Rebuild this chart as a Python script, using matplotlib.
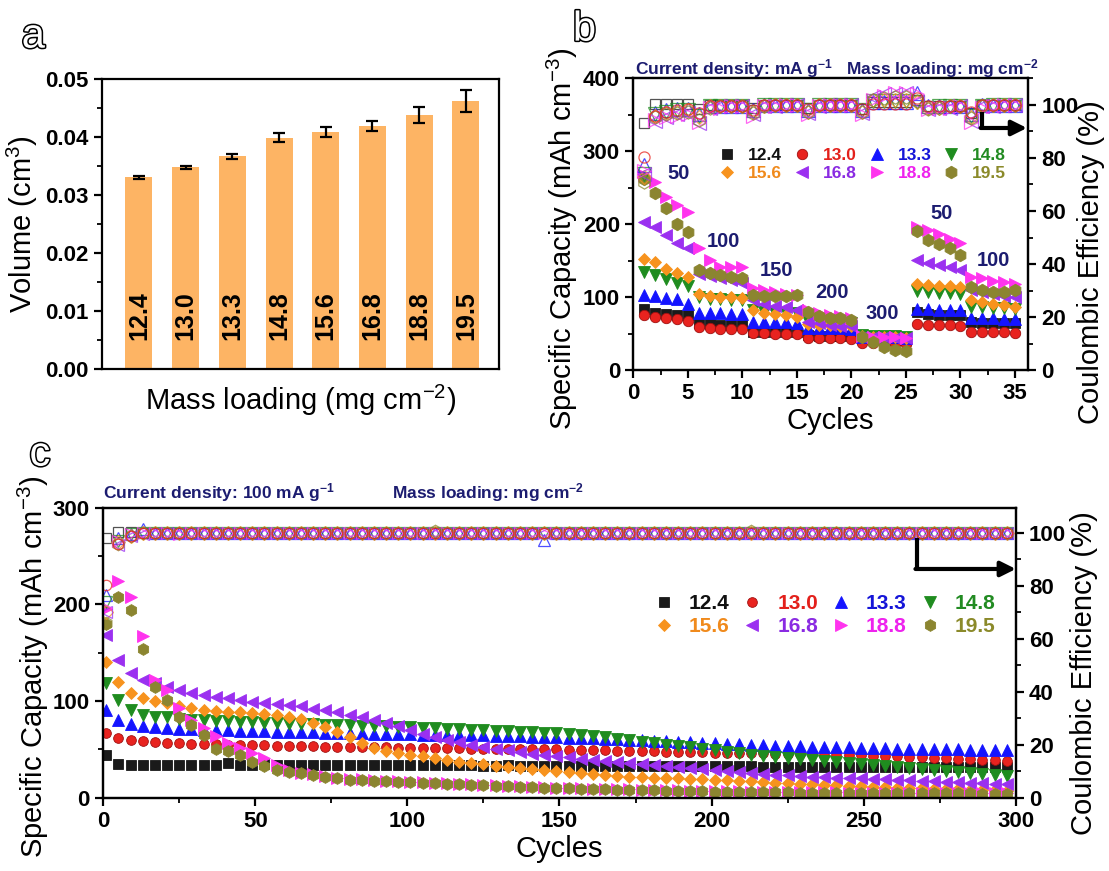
import matplotlib.pyplot as plt
import matplotlib.patheffects as pe
from matplotlib.ticker import MultipleLocator

plt.rcParams['font.family'] = ['Liberation Sans', 'DejaVu Sans']
plt.rcParams['mathtext.fontset'] = 'custom'
plt.rcParams['mathtext.rm'] = 'Liberation Sans'
plt.rcParams['mathtext.bf'] = 'Liberation Sans:bold'
plt.rcParams['mathtext.default'] = 'rm'
plt.rcParams['axes.linewidth'] = 1.6

# ---------------- data ----------------
loadings = ['12.4', '13.0', '13.3', '14.8', '15.6', '16.8', '18.8', '19.5']
bar_pos = [1, 2, 3, 4, 5, 6, 7, 8]
volume = [0.0331, 0.0348, 0.0367, 0.0399, 0.0409, 0.0419, 0.0438, 0.0463]
volume_err = [0.0003, 0.0003, 0.0005, 0.0008, 0.0009, 0.0009, 0.0014, 0.0019]

# panel b: rate test (35 cycles)
cycles_b = [1, 2, 3, 4, 5, 6, 7, 8, 9, 10, 11, 12, 13, 14, 15, 16, 17, 18,
            19, 20, 21, 22, 23, 24, 25, 26, 27, 28, 29, 30, 31, 32, 33, 34, 35]
cap_b_124 = [84.5, 79, 77, 76, 75, 64, 63, 62.5, 62, 62, 53, 52.5, 52.5, 52, 52, 48, 47.5, 47,
             47, 46.5, 43, 42.5, 42.5, 42, 42, 80, 77, 76, 75.5, 75, 66, 65, 64.5, 64.5, 64]
cap_b_130 = [75, 73, 71, 69.5, 67.5, 59, 58, 57, 57, 56, 51.5, 50.5, 50, 49.5, 49, 44.5, 44, 43.5,
             43.5, 43, 37.5, 37, 37, 36.5, 36.5, 63.5, 62.5, 62, 61.5, 61, 53, 52.5, 52, 52, 51.5]
cap_b_133 = [103, 101, 99.5, 97, 91, 79, 78, 78, 77.5, 77, 66.5, 66, 66, 65.5, 65, 58.5, 58, 57.5,
             57.5, 57, 46, 45.5, 45, 45, 44.5, 84, 83.5, 83, 83, 82.5, 71.5, 71, 71, 70.5, 70]
cap_b_148 = [135, 130, 125.5, 120, 115, 100, 98, 97, 96.5, 96, 82, 80, 79, 78.5, 78, 68, 66.5, 65.5,
             65, 64, 48, 47.5, 47, 46.5, 46, 108, 107, 106, 105.5, 105, 87, 86, 85.5, 85, 84.5]
cap_b_156 = [153, 148, 139, 133, 128, 105, 101, 100, 100, 99.5, 82, 79, 77, 75, 73, 63, 62, 61.5,
             61, 60.5, 47, 46, 45.5, 45, 44.5, 118, 116.5, 115.5, 115, 114.5, 96, 93, 91, 89, 87]
cap_b_168 = [203, 196, 185, 174, 167, 132, 129, 126, 123, 120, 96, 91, 88, 86, 83, 66, 64, 62,
             61, 60, 46, 45.5, 45, 44.5, 44, 151, 147, 144, 142, 138, 110, 107, 104, 102, 100]
cap_b_188 = [268, 258, 237, 226, 217, 167, 151, 142, 141, 141, 112, 110, 107, 105, 103, 83, 79, 75,
             74, 72, 47, 46, 45.5, 45, 44.5, 196, 192, 187, 180, 174, 128, 126, 122, 121, 118]
cap_b_195 = [262, 243, 222, 200, 190, 137, 133, 130, 128, 127, 103, 101, 101, 101, 103, 80, 74, 72,
             71, 69, 46, 39, 32, 28, 26.5, 191, 179, 173, 167, 158, 114, 110, 107, 107, 110]

ce_b_124 = [93.0, 100.5, 100.5, 100.5, 100.5, 98.5, 100.0, 100.0, 100.0, 100.0, 99.0, 100.0, 100.0,
            100.0, 100.0, 99.0, 100.0, 100.0, 100.0, 100.0, 98.5, 101.0, 101.0, 101.0, 101.0, 102.0,
            99.5, 99.5, 99.5, 99.5, 97.0, 100.0, 100.0, 100.0, 100.0]
ce_b_130 = [80.5, 96.0, 97.5, 98.0, 98.5, 97.0, 99.5, 99.5, 99.5, 99.5, 98.0, 100.0, 100.0, 100.0,
            100.0, 98.5, 100.0, 100.0, 100.0, 100.0, 98.5, 100.5, 100.5, 100.5, 100.5, 102.5, 99.5,
            99.5, 99.5, 99.5, 97.5, 100.0, 100.0, 100.0, 100.0]
ce_b_133 = [77.5, 97.0, 98.0, 98.5, 98.5, 96.5, 99.5, 99.5, 99.5, 99.5, 98.0, 100.0, 100.0, 100.0,
            100.0, 98.0, 100.0, 100.0, 100.0, 100.0, 98.0, 101.0, 101.0, 101.0, 101.0, 104.5, 99.5,
            99.5, 99.5, 99.5, 96.5, 100.0, 100.0, 100.0, 100.0]
ce_b_148 = [74.0, 96.5, 97.5, 98.0, 98.0, 96.0, 99.5, 99.5, 99.5, 99.5, 97.5, 100.0, 100.0, 100.0,
            100.0, 98.0, 100.0, 100.0, 100.0, 100.0, 98.0, 101.5, 101.5, 101.5, 101.5, 101.0, 99.0,
            99.5, 99.5, 99.5, 96.0, 99.5, 100.0, 100.0, 100.0]
ce_b_156 = [73.0, 96.0, 97.0, 97.5, 98.0, 95.5, 99.5, 99.5, 99.5, 99.5, 97.5, 99.5, 100.0, 100.0,
            100.0, 97.5, 100.0, 100.0, 100.0, 100.0, 97.5, 102.0, 102.0, 102.0, 102.0, 101.0, 99.0,
            99.0, 99.5, 99.5, 95.5, 99.5, 100.0, 100.0, 100.0]
ce_b_168 = [74.0, 94.0, 95.5, 96.5, 97.0, 93.0, 99.0, 99.5, 99.5, 99.5, 96.5, 99.5, 99.5, 100.0,
            100.0, 97.0, 99.5, 100.0, 100.0, 100.0, 97.0, 103.0, 104.0, 104.0, 104.5, 101.0, 98.5,
            99.0, 99.0, 99.5, 94.0, 99.5, 99.5, 100.0, 100.0]
ce_b_188 = [75.0, 94.5, 95.5, 96.0, 96.5, 93.5, 99.0, 99.0, 99.5, 99.5, 96.0, 99.5, 99.5, 100.0,
            100.0, 96.5, 99.5, 100.0, 100.0, 100.0, 96.5, 102.0, 103.5, 104.5, 104.5, 104.0, 98.5,
            99.0, 99.0, 99.5, 93.5, 99.0, 99.5, 100.0, 100.0]
ce_b_195 = [71.0, 95.5, 96.5, 97.0, 97.5, 94.5, 99.0, 99.5, 99.5, 99.5, 97.0, 99.5, 100.0, 100.0,
            100.0, 97.5, 100.0, 100.0, 100.0, 100.0, 97.5, 102.0, 102.5, 103.0, 103.0, 101.5, 98.5,
            99.0, 99.5, 99.5, 95.0, 99.5, 100.0, 100.0, 100.0]

rate_labels = ['50', '100', '150', '200', '300', '50', '100']
rate_x = [4.2, 8.3, 13.1, 18.2, 22.8, 28.3, 33.0]
rate_y = [270, 177, 136, 107, 78, 215, 151]

# panel c: cycling at 100 mA g-1 (every 4th cycle shown)
cycles_c = [1, 5, 9, 13, 17, 21, 25, 29, 33, 37, 41, 45, 49, 53, 57,
            61, 65, 69, 73, 77, 81, 85, 89, 93, 97, 101, 105, 109, 113, 117,
            121, 125, 129, 133, 137, 141, 145, 149, 153, 157, 161, 165, 169, 173, 177,
            181, 185, 189, 193, 197, 201, 205, 209, 213, 217, 221, 225, 229, 233, 237,
            241, 245, 249, 253, 257, 261, 265, 269, 273, 277, 281, 285, 289, 293, 297]
cap_c_124 = [44.5, 35.0, 33.5, 33.5, 33.5, 33.5, 33.5, 33.5, 33.5, 34.0, 36.5, 33.5, 33.5, 34.5, 33.5,
             33.5, 33.5, 33.5, 33.5, 33.5, 33.5, 33.5, 33.5, 33.5, 33.5, 34.0, 34.0, 33.5, 34.0, 33.5,
             33.5, 33.0, 33.0, 33.5, 32.5, 33.0, 33.0, 33.0, 33.0, 33.0, 32.5, 32.5, 32.5, 33.0, 32.5,
             32.5, 32.5, 32.5, 32.5, 32.5, 32.5, 32.5, 32.5, 32.5, 32.0, 32.0, 32.0, 32.0, 32.0, 32.0,
             32.0, 32.0, 32.0, 31.5, 31.5, 31.5, 31.5, 31.5, 31.5, 31.5, 31.5, 31.5, 31.5, 31.5, 31.5]
cap_c_130 = [67, 62, 59.5, 58.5, 57.5, 57, 56.5, 56, 55.5, 55.5, 55, 55, 54.5, 54.5, 54,
             54, 53.5, 53.5, 53, 53, 53, 52.5, 52.5, 52.5, 52, 52, 52, 51.5, 51.5, 51.5,
             51, 51, 51, 50.5, 50.5, 50, 50, 50, 49.5, 49.5, 49, 49, 48.5, 48.5, 48,
             48, 47.5, 47.5, 47, 47, 46.5, 46.5, 46, 46, 46, 45.5, 45.5, 45, 45, 44.5,
             44.5, 44, 44, 43.5, 43, 43, 42.5, 42, 41.5, 41, 40.5, 40, 39.5, 39, 38.5]
cap_c_133 = [91, 81, 76, 74, 73, 72, 71.5, 71, 70.5, 70, 70, 69.5, 69, 69, 68.5,
             68.5, 68, 68, 67.5, 67.5, 67, 67, 66.5, 66.5, 66, 66, 65.5, 65.5, 65, 65,
             64.5, 64.5, 64, 64, 63.5, 63, 63, 62.5, 62, 62, 61.5, 61, 60.5, 60, 59.5,
             59, 58.5, 58, 57.5, 57, 56.5, 56, 55.5, 55, 54.5, 54, 54, 53.5, 53, 53,
             52.5, 52.5, 52, 51.5, 51.5, 51, 51, 50.5, 50.5, 50, 50, 49.5, 49.5, 49, 49]
cap_c_148 = [118.5, 101, 91, 86, 84, 83.5, 82, 81, 80, 79.5, 79, 78.5, 78, 77.5, 77,
             76.5, 76, 76, 75.5, 75, 75, 74.5, 74, 74, 73.5, 73, 72.5, 72, 71.5, 71,
             70.5, 70, 69.5, 69, 68.5, 68, 67.5, 67, 66, 65, 64, 62.5, 61, 59.5, 58,
             56.5, 55, 54, 52.5, 51, 49, 47.5, 46, 44.5, 43, 42, 41, 40, 39, 38,
             37, 36, 35, 34, 33, 32, 31, 30, 29, 28, 27, 26, 25, 24, 23]
cap_c_156 = [141, 120, 108, 103, 100.5, 98, 94.5, 93, 91, 90, 89, 88.5, 87.5, 86.5, 85.5,
             83.5, 81.5, 77, 73, 68, 63, 57, 52, 48, 46, 44.5, 43, 41, 39, 37.5,
             36, 34.5, 33, 32, 31, 30, 29, 28, 27, 26, 25, 24, 23, 22, 21.5,
             21, 20.5, 20, 19.5, 19, 18.5, 18, 17.5, 17, 16, 15.5, 15, 14.5, 14, 13.5,
             13, 12.5, 12, 11.5, 11, 10.5, 10, 10, 9.5, 9, 9, 8.5, 8, 8, 7.5]
cap_c_168 = [168.5, 143, 129, 122, 118.5, 115, 111.5, 108, 106.5, 104, 103, 101, 99.5, 98.5, 97,
             96, 94.5, 91.5, 91, 89, 86, 83.5, 80.5, 77, 74, 70, 66, 63, 60, 57.5,
             55, 53, 51, 49, 47, 45.5, 44, 43, 42, 40.5, 39, 38, 37, 36, 35,
             34, 33, 32, 31, 30, 29, 28, 27, 26, 25, 24, 23.5, 23, 22, 21.5,
             21, 20.5, 20, 19.5, 19, 18.5, 18, 17.5, 17, 16.5, 16, 15.5, 15, 14.5, 14]
cap_c_188 = [195, 224, 207.5, 167, 122, 111.5, 93, 80.5, 72, 63.5, 56.5, 51.5, 46, 41, 34,
             29, 26, 24.5, 23, 21, 19.5, 19, 18, 17.5, 17, 16.5, 16, 15.5, 15, 14.5,
             14, 13.5, 13, 12.5, 12, 11.5, 11, 10.5, 10.5, 10, 9.5, 9.5, 9, 9, 8.5,
             8.5, 8, 8, 7.5, 7.5, 7, 7, 7, 6.5, 6.5, 6.5, 6.5, 6, 6, 6,
             6, 5.5, 5.5, 5.5, 5.5, 5.5, 5, 5, 5, 5, 5, 5, 4.5, 4.5, 4.5]
cap_c_195 = [180, 208, 194.5, 154, 115, 101, 84, 75.5, 65, 50, 48, 44.5, 37.5, 32.5, 29,
             27, 25.5, 24, 22, 20, 18.5, 18.5, 17, 17, 16.5, 16, 15.5, 15, 14.5, 14,
             13.5, 13, 12.5, 12, 11.5, 11, 10.5, 10, 10, 9.5, 9, 9, 8.5, 8.5, 8,
             8, 7.5, 7.5, 7, 7, 6.5, 6.5, 6.5, 6, 6, 6, 6, 5.5, 5.5, 5.5,
             5.5, 5, 5, 5, 5, 5, 4.5, 4.5, 4.5, 4.5, 4.5, 4.5, 4, 4, 4]

ce_c_124 = [98.0, 100.5, 100.2, 100.0, 100.0, 100.0, 100.0, 100.0, 100.0, 100.0, 100.0, 100.0, 100.0, 100.0, 100.0,
            100.0, 100.0, 100.0, 100.0, 100.0, 100.0, 100.0, 100.0, 100.0, 100.0, 100.0, 100.0, 100.0, 100.0, 100.0,
            100.0, 100.0, 100.0, 100.0, 100.0, 100.0, 100.0, 100.0, 100.0, 100.0, 100.0, 100.0, 100.0, 100.0, 100.0,
            100.0, 100.0, 100.0, 100.0, 100.0, 100.0, 100.0, 100.0, 100.0, 100.0, 100.0, 100.0, 100.0, 100.0, 100.0,
            100.0, 100.0, 100.0, 100.0, 100.0, 100.0, 100.0, 100.0, 100.0, 100.0, 100.0, 100.0, 100.0, 100.0, 100.0]
ce_c_130 = [80.3, 96.0, 99.0, 99.8, 100.0, 100.0, 100.0, 100.0, 100.0, 100.0, 100.0, 100.0, 100.0, 100.0, 100.0,
            100.0, 100.0, 100.0, 100.0, 100.0, 100.0, 100.0, 100.0, 100.0, 100.0, 100.0, 100.0, 100.0, 100.0, 100.0,
            100.0, 100.0, 100.0, 100.0, 100.0, 100.0, 100.0, 100.0, 100.0, 100.0, 100.0, 100.0, 100.0, 100.0, 100.0,
            100.0, 100.0, 100.0, 100.0, 100.0, 100.0, 100.0, 100.0, 100.0, 100.0, 100.0, 100.0, 100.0, 100.0, 100.0,
            100.0, 100.0, 100.0, 100.0, 100.0, 100.0, 100.0, 100.0, 100.0, 100.0, 100.0, 100.0, 100.0, 100.0, 100.0]
ce_c_133 = [76.6, 98.0, 99.5, 101.5, 100.0, 100.0, 100.0, 100.0, 100.0, 100.0, 100.0, 100.0, 100.0, 100.0, 100.0,
            100.0, 100.0, 100.0, 100.0, 100.0, 100.0, 100.0, 100.0, 100.0, 100.0, 100.0, 100.0, 100.0, 100.0, 100.0,
            100.0, 100.0, 100.0, 100.0, 100.0, 100.0, 97.4, 100.0, 100.0, 100.0, 100.0, 100.0, 100.0, 100.0, 100.0,
            100.0, 100.0, 100.0, 100.0, 100.0, 100.0, 100.0, 100.0, 100.0, 100.0, 100.0, 100.0, 100.0, 100.0, 100.0,
            100.0, 100.0, 100.0, 100.0, 100.0, 100.0, 100.0, 100.0, 100.0, 100.0, 100.0, 100.0, 100.0, 100.0, 100.0]
ce_c_148 = [74.0, 97.0, 99.5, 100.0, 100.0, 100.0, 100.0, 100.0, 100.0, 100.0, 100.0, 100.0, 100.0, 100.0, 100.0,
            100.0, 100.0, 100.0, 100.0, 100.0, 100.0, 100.0, 100.0, 100.0, 100.0, 100.0, 100.0, 100.0, 100.0, 100.0,
            100.0, 100.0, 100.0, 100.0, 100.0, 100.0, 100.0, 100.0, 100.0, 100.0, 100.0, 100.0, 100.0, 100.0, 100.0,
            100.0, 100.0, 100.0, 100.0, 100.0, 100.0, 100.0, 100.0, 100.0, 100.0, 100.0, 100.0, 100.0, 100.0, 100.0,
            100.0, 100.0, 100.0, 100.0, 100.0, 100.0, 100.0, 100.0, 100.0, 100.0, 100.0, 100.0, 100.0, 100.0, 100.0]
ce_c_156 = [70.0, 96.5, 99.0, 100.0, 100.0, 100.0, 100.0, 100.0, 100.0, 100.0, 100.0, 100.0, 100.0, 100.0, 100.0,
            100.0, 100.0, 100.0, 100.0, 100.0, 100.0, 100.0, 100.0, 100.0, 100.0, 100.0, 100.0, 100.0, 100.0, 100.0,
            100.0, 100.0, 100.0, 100.0, 100.0, 100.0, 100.0, 100.0, 100.0, 100.0, 100.0, 100.0, 100.0, 100.0, 100.0,
            100.0, 100.0, 100.0, 100.0, 100.0, 100.0, 100.0, 100.0, 100.0, 100.0, 100.0, 100.0, 100.0, 100.0, 100.0,
            100.0, 100.0, 100.0, 100.0, 100.0, 100.0, 100.0, 100.0, 100.0, 100.0, 100.0, 100.0, 100.0, 100.0, 100.0]
ce_c_168 = [70.0, 95.5, 99.0, 99.5, 100.0, 100.0, 100.0, 100.0, 100.0, 100.0, 100.0, 100.0, 100.0, 100.0, 100.0,
            100.0, 100.0, 100.0, 100.0, 100.0, 100.0, 100.0, 100.0, 100.0, 100.0, 100.0, 100.0, 100.0, 100.0, 100.0,
            100.0, 100.0, 100.0, 100.0, 100.0, 100.0, 100.0, 100.0, 100.0, 100.0, 100.0, 100.0, 100.0, 100.0, 100.0,
            100.0, 100.0, 100.0, 100.0, 100.0, 100.0, 100.0, 100.0, 100.0, 100.0, 100.0, 100.0, 100.0, 100.0, 100.0,
            100.0, 100.0, 100.0, 100.0, 100.0, 100.0, 100.0, 100.0, 100.0, 100.0, 100.0, 100.0, 100.0, 100.0, 100.0]
ce_c_188 = [71.7, 96.8, 99.5, 100.0, 100.0, 100.0, 99.5, 100.0, 100.0, 100.0, 100.0, 100.0, 100.0, 100.0, 100.0,
            100.0, 100.0, 100.0, 100.0, 100.0, 100.0, 100.0, 100.0, 100.0, 100.0, 100.0, 100.0, 100.0, 100.0, 100.0,
            100.0, 100.0, 100.0, 100.0, 100.0, 100.0, 100.0, 100.0, 100.0, 100.0, 100.0, 100.0, 100.0, 100.0, 100.0,
            100.0, 100.0, 100.0, 100.0, 100.0, 100.0, 100.0, 100.0, 100.0, 100.0, 100.0, 100.0, 100.0, 100.0, 100.0,
            100.0, 100.0, 100.0, 100.0, 100.0, 100.0, 100.0, 100.0, 100.0, 100.0, 100.0, 100.0, 100.0, 100.0, 100.0]
ce_c_195 = [66.0, 96.0, 99.0, 100.0, 100.0, 100.0, 100.0, 100.0, 100.0, 100.0, 100.0, 100.0, 100.0, 100.0, 100.0,
            100.0, 100.0, 100.0, 100.0, 100.0, 100.0, 100.0, 100.0, 100.0, 100.0, 100.0, 100.0, 100.8, 100.0, 100.0,
            100.0, 100.0, 100.0, 100.0, 100.0, 100.0, 100.0, 100.0, 100.0, 100.0, 100.0, 100.0, 100.0, 100.0, 100.0,
            100.0, 100.0, 100.0, 100.0, 100.0, 100.0, 100.0, 100.0, 100.8, 100.0, 100.0, 100.0, 100.0, 100.0, 100.0,
            100.0, 100.0, 100.0, 100.0, 100.0, 100.0, 100.0, 100.0, 100.0, 100.0, 100.0, 100.0, 100.0, 100.0, 100.0]

cap_b = [cap_b_124, cap_b_130, cap_b_133, cap_b_148, cap_b_156, cap_b_168, cap_b_188, cap_b_195]
ce_b = [ce_b_124, ce_b_130, ce_b_133, ce_b_148, ce_b_156, ce_b_168, ce_b_188, ce_b_195]
cap_c = [cap_c_124, cap_c_130, cap_c_133, cap_c_148, cap_c_156, cap_c_168, cap_c_188, cap_c_195]
ce_c = [ce_c_124, ce_c_130, ce_c_133, ce_c_148, ce_c_156, ce_c_168, ce_c_188, ce_c_195]

# ---------------- styles ----------------
colors = ['#1a1a1a', '#e8231f', '#1414ff', '#1f8c1f', '#f7931e', '#9b30f0', '#ff33ee', '#8b8530']
edge = ['#1a1a1a', '#a01010', '#1414ff', '#1f8c1f', '#f7931e', '#9b30f0', '#ff33ee', '#8b8530']
text_colors = ['#111111', '#e3201b', '#1515d8', '#228b22', '#f08a1c', '#8a2be2', '#ee22ee', '#8b8a2a']
markers = ['s', 'o', '^', 'v', 'D', '<', '>', 'h']
ms_b = [7, 7.5, 9, 9, 6.5, 9, 9, 9]
ms_c = [6.5, 7, 8.5, 8.5, 6.5, 8.5, 8.5, 8.5]
ce_order = [0, 2, 3, 4, 5, 6, 7, 1]
navy = '#1c1c70'
bar_color = '#fdb464'


def style_axis(ax):
    ax.tick_params(which='major', direction='out', length=6, width=1.6, labelsize=16)
    ax.tick_params(which='minor', direction='out', length=3.5, width=1.3)


def bold_ticks(ax):
    for t in ax.get_xticklabels() + ax.get_yticklabels():
        t.set_fontweight('bold')


fig = plt.figure(figsize=(11.09, 8.71), dpi=100)

# ---------------- panel a ----------------
ax_a = fig.add_axes([0.092, 0.576, 0.358, 0.333])
ax_a.bar(bar_pos, volume, width=0.58, color=bar_color, zorder=2)
ax_a.errorbar(bar_pos, volume, yerr=volume_err, fmt='none', ecolor='black',
              elinewidth=1.6, capsize=4, capthick=1.6, zorder=3)
for x, lab in zip(bar_pos, loadings):
    ax_a.text(x, 0.005, lab, rotation=90, ha='center', va='bottom',
              fontsize=18, fontweight='bold', zorder=4)
ax_a.set_xlim(0.21, 8.71)
ax_a.set_ylim(0, 0.05)
ax_a.set_xticks([])
ax_a.set_yticks([0.00, 0.01, 0.02, 0.03, 0.04, 0.05])
ax_a.yaxis.set_minor_locator(MultipleLocator(0.005))
style_axis(ax_a)
bold_ticks(ax_a)
ax_a.set_ylabel('Volume (cm$^{3}$)', fontsize=21, labelpad=4)
ax_a.set_xlabel('Mass loading (mg cm$^{-2}$)', fontsize=21, labelpad=10)

# ---------------- panel b ----------------
ax_b = fig.add_axes([0.571, 0.575, 0.356, 0.335])
handles_b = []
for i in range(8):
    h, = ax_b.plot(cycles_b, cap_b[i], ls='none', marker=markers[i], ms=ms_b[i],
                   mfc=colors[i], mec=edge[i], mew=0.6, label=loadings[i])
    handles_b.append(h)
ax_b.set_xlim(0, 36.2)
ax_b.set_ylim(0, 400)
ax_b.set_xticks([0, 5, 10, 15, 20, 25, 30, 35])
ax_b.set_yticks([0, 100, 200, 300, 400])
ax_b.xaxis.set_minor_locator(MultipleLocator(2.5))
ax_b.yaxis.set_minor_locator(MultipleLocator(50))
style_axis(ax_b)
bold_ticks(ax_b)
ax_b.set_xlabel('Cycles', fontsize=21, labelpad=2)
ax_b.set_ylabel('Specific Capacity (mAh cm$^{-3}$)', fontsize=21, labelpad=2)
ax_b.yaxis.label.set_y(0.45)
for lab, x, y in zip(rate_labels, rate_x, rate_y):
    ax_b.text(x, y, lab, ha='center', va='center', fontsize=14.5,
              fontweight='bold', color=navy)
ax_b.text(0.005, 1.035, 'Current density: mA g$^{\\mathbf{-1}}$   Mass loading: mg cm$^{\\mathbf{-2}}$',
          transform=ax_b.transAxes, ha='left', va='center', fontsize=12.5,
          fontweight='bold', color=navy)

ax_b2 = ax_b.twinx()
for i in ce_order:
    ax_b2.plot(cycles_b, ce_b[i], ls='none', marker=markers[i], ms=ms_b[i] + 0.5,
               mfc='none', mec=colors[i], mew=0.9, alpha=0.75)
ax_b2.set_ylim(0, 110)
ax_b2.set_yticks([0, 20, 40, 60, 80, 100])
ax_b2.yaxis.set_minor_locator(MultipleLocator(10))
style_axis(ax_b2)
bold_ticks(ax_b2)
ax_b2.set_ylabel('Coulombic Efficiency (%)', fontsize=21, labelpad=-1)
ax_b2.yaxis.label.set_y(0.37)
ax_b2.plot([32, 32], [97.5, 91.3], color='black', lw=3, solid_capstyle='butt')
ax_b2.annotate('', xy=(36.1, 91.3), xytext=(31.85, 91.3),
               arrowprops=dict(arrowstyle='-|>,head_length=0.9,head_width=0.45',
                               lw=3, color='black', shrinkA=0, shrinkB=0))

order = [0, 4, 1, 5, 2, 6, 3, 7]
leg_b = ax_b.legend([handles_b[k] for k in order], [loadings[k] for k in order],
                    ncol=4, loc='center', bbox_to_anchor=(0.58, 0.705), frameon=False,
                    numpoints=1, handlelength=1.0, handletextpad=0.7, columnspacing=0.65,
                    labelspacing=0.2, prop={'weight': 'bold', 'size': 12.5})
for t, k in zip(leg_b.get_texts(), order):
    t.set_color(text_colors[k])

# ---------------- panel c ----------------
ax_c = fig.add_axes([0.093, 0.084, 0.823, 0.333])
handles_c = []
for i in range(8):
    h, = ax_c.plot(cycles_c, cap_c[i], ls='none', marker=markers[i], ms=ms_c[i],
                   mfc=colors[i], mec=edge[i], mew=0.6, label=loadings[i])
    handles_c.append(h)
ax_c.set_xlim(0, 300)
ax_c.set_ylim(0, 300)
ax_c.set_xticks([0, 50, 100, 150, 200, 250, 300])
ax_c.set_yticks([0, 100, 200, 300])
ax_c.xaxis.set_minor_locator(MultipleLocator(25))
ax_c.yaxis.set_minor_locator(MultipleLocator(50))
style_axis(ax_c)
bold_ticks(ax_c)
ax_c.set_xlabel('Cycles', fontsize=21, labelpad=2)
ax_c.set_ylabel('Specific Capacity (mAh cm$^{-3}$)', fontsize=21, labelpad=1)
ax_c.yaxis.label.set_y(0.45)
ax_c.text(0.0, 1.052, 'Current density: 100 mA g$^{\\mathbf{-1}}$', transform=ax_c.transAxes,
          ha='left', va='center', fontsize=12.5, fontweight='bold', color=navy)
ax_c.text(0.317, 1.052, 'Mass loading: mg cm$^{\\mathbf{-2}}$', transform=ax_c.transAxes,
          ha='left', va='center', fontsize=12.5, fontweight='bold', color=navy)

ax_c2 = ax_c.twinx()
for i in ce_order:
    ax_c2.plot(cycles_c, ce_c[i], ls='none', marker=markers[i], ms=ms_c[i] + 0.5,
               mfc='none', mec=colors[i], mew=0.9, alpha=0.75)
ax_c2.set_ylim(0, 109.5)
ax_c2.set_yticks([0, 20, 40, 60, 80, 100])
ax_c2.yaxis.set_minor_locator(MultipleLocator(10))
style_axis(ax_c2)
bold_ticks(ax_c2)
ax_c2.set_ylabel('Coulombic Efficiency (%)', fontsize=21, labelpad=3)
ax_c2.yaxis.label.set_y(0.43)
ax_c2.plot([267.5, 267.5], [98, 86.4], color='black', lw=3, solid_capstyle='butt')
ax_c2.annotate('', xy=(300, 86.4), xytext=(267, 86.4),
               arrowprops=dict(arrowstyle='-|>,head_length=0.9,head_width=0.45',
                               lw=3, color='black', shrinkA=0, shrinkB=0))

leg_c = ax_c.legend([handles_c[k] for k in order], [loadings[k] for k in order],
                    ncol=4, loc='center', bbox_to_anchor=(0.79, 0.63), frameon=False,
                    numpoints=1, handlelength=1.0, handletextpad=0.7, columnspacing=0.6,
                    labelspacing=0.2, prop={'weight': 'bold', 'size': 15})
for t, k in zip(leg_c.get_texts(), order):
    t.set_color(text_colors[k])

# ---------------- panel letters ----------------
outline = [pe.withStroke(linewidth=2.2, foreground='black')]
for x, y, s in [(0.030, 0.958, 'a'), (0.527, 0.966, 'b'), (0.036, 0.478, 'c')]:
    fig.text(x, y, s, fontsize=30, color='white', ha='center', va='center',
             path_effects=outline)

fig.savefig('out.png', dpi=100)
